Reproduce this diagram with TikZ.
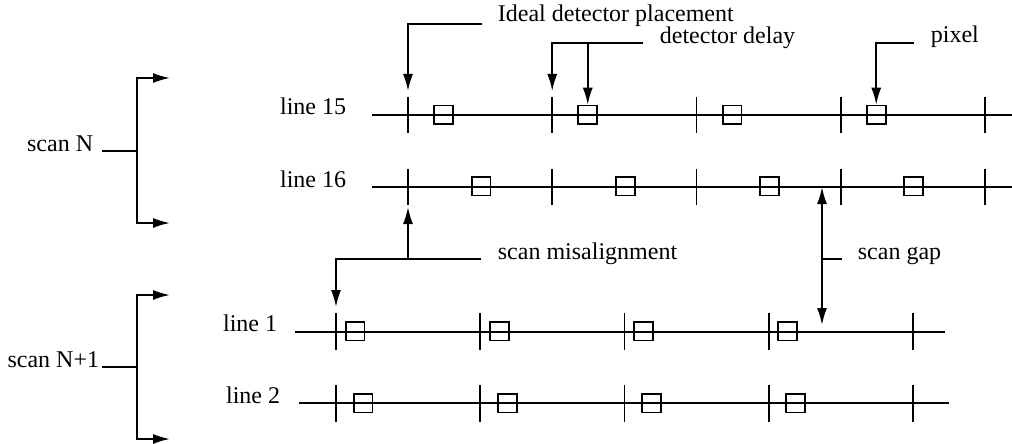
\documentclass[tikz,border=0pt]{standalone}
\usepackage{fontspec}
\setmainfont{Liberation Serif}
\usetikzlibrary{arrows.meta}
\begin{document}
\begin{tikzpicture}[x=0.5pt, y=-0.5pt, line width=0.9pt]
\tikzstyle{lbl} 	= [inner sep = 0pt, font = \fontsize{12}{14}\selectfont] % label text
\tikzstyle{arrow} 	= [-{Latex[length=8.5pt, width=5pt]}] % define leader arrow
\tikzstyle{dblarrow} 	= [{Latex[length=8.5pt, width=5pt]}-{Latex[length=8.5pt, width=5pt]}]
\tikzstyle{pix} 	= [draw, rectangle, minimum size = 9.4pt, inner sep = 0pt] % define pixel box

\useasboundingbox (0,0) rectangle (1012,444);

% scan lines with their labels
\node(t15)[lbl, anchor = base east] at (347,115){line 15};
\node(t16)[lbl, anchor = base east] at (347,187){line 16};
\node(t1)[lbl, anchor = base east] at (278,331){line 1};
\node(t2)[lbl, anchor = base east] at (281,403){line 2};
\coordinate(L15a) at (372,115); \coordinate(L15b) at (1012,115);
\coordinate(L16a) at (372,187); \coordinate(L16b) at (1012,187);
\coordinate(L1a) at (295,332); \coordinate(L1b) at (945,332);
\coordinate(L2a) at (299,403); \coordinate(L2b) at (949,403);
\draw (L15a) -- (L15b);
\draw (L16a) -- (L16b);
\draw (L1a) -- (L1b);
\draw (L2a) -- (L2b);

% detector ticks
\foreach \i in {0,...,4}{
	\coordinate(k15-\i) at ({408+144.25*\i},97);
	\coordinate(k16-\i) at ({408+144.25*\i},205);
	\coordinate(k1-\i) at ({336+144.25*\i},313);
	\draw (k15-\i) -- ++(0,36);
	\draw (k16-\i) -- ++(0,-36);
	\draw (k1-\i) -- ++(0,37);
	\draw ({336+144.25*\i},385) -- ++(0,37);
}

% pixels
\foreach \i in {0,...,3}{
	\node(p15-\i)[pix] at ({443.5+144.25*\i},115){};
	\node(p16-\i)[pix] at ({481+144.25*\i},186){};
	\node(p1-\i)[pix] at ({355+144.25*\i},331){};
	\node(p2-\i)[pix] at ({363+144.25*\i},403){};
}

% scan brackets
\node(sN)[lbl, anchor = base east] at (94,151){scan N};
\node(sN1)[lbl, anchor = base east] at (100,367){scan N+1};
\coordinate(bN) at (137,151); \coordinate(bN1) at (137,367);
\draw (bN) -- ++(-35,0);
\draw (bN1) -- ++(-35,0);
\draw[arrow] (bN) |- (170,78);
\draw[arrow] (bN) |- (170,223);
\draw[arrow] (bN1) |- (170,295);
\draw[arrow] (bN1) |- (170,439);

% ideal placement and detector delay
\node(ideal)[lbl, anchor = base west] at (497,22){Ideal detector placement};
\node(delay)[lbl, anchor = base west] at (659,44){detector delay};
\node(pixel)[lbl, anchor = base west] at (930,43){pixel};
\coordinate(cI) at (482,24);
\coordinate(cD) at (643,43);
\coordinate(cP) at (914,43);
\draw[arrow, shorten > = 3pt] (cI) -| (k15-0);
\draw[arrow, shorten > = 3pt] (cD) -| (k15-1);
\draw[arrow] (p15-1 |- cD) -- (p15-1.north);
\draw[arrow] (cP) -| (p15-3.north);

% scan misalignment and scan gap
\node(mis)[lbl, anchor = base west] at (497,259){scan misalignment};
\node(gap)[lbl, anchor = base west] at (857,259){scan gap};
\coordinate(cM) at (481,259);
\draw[arrow, shorten > = 3pt] (cM) -| (k1-0);
\draw[arrow, shorten > = 1pt] (k16-0 |- cM) -- (k16-0);
\coordinate(gT) at (822,187); \coordinate(gB) at (822,332);
\draw[dblarrow, shorten > = 3.5pt] (gT) -- (gB);
\draw (822,259) -- (842,259);
\end{tikzpicture}
\end{document}
